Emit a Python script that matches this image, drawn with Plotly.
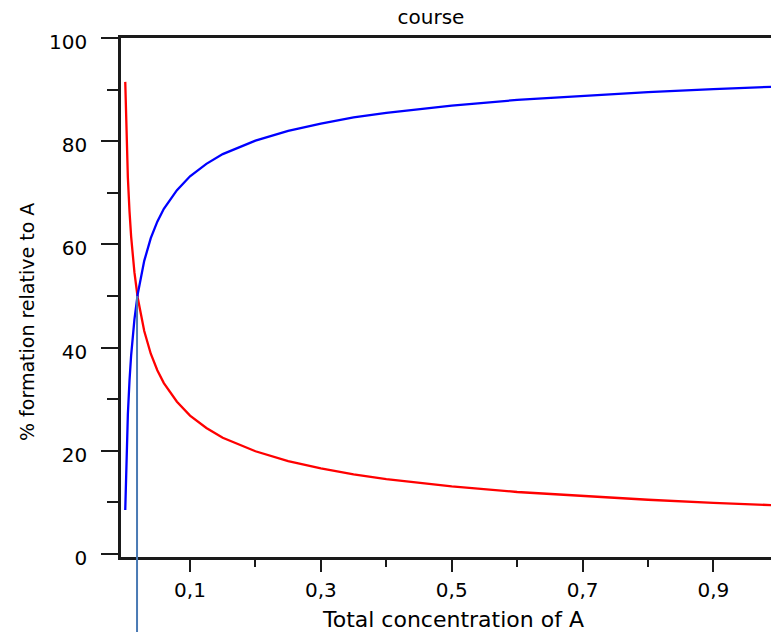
import plotly.graph_objects as go

# Data
conc = [0.001, 0.002, 0.003, 0.005, 0.0075, 0.01, 0.015, 0.02, 0.03, 0.04, 0.05, 0.06,
        0.08, 0.1, 0.125, 0.15, 0.2, 0.25, 0.3, 0.35, 0.4, 0.5, 0.6, 0.7, 0.8, 0.9, 1.0]
blue_pct = [8.5, 14.8, 19.7, 27.1, 33.6, 38.5, 45.4, 50.3, 56.8, 61.2, 64.4, 66.9,
            70.5, 73.2, 75.6, 77.5, 80.1, 82.0, 83.4, 84.6, 85.5, 86.9, 88.0, 88.8, 89.5, 90.1, 90.6]
red_pct = [91.5, 85.2, 80.3, 72.9, 66.4, 61.5, 54.6, 49.7, 43.2, 38.8, 35.6, 33.1,
           29.5, 26.8, 24.4, 22.5, 19.9, 18.0, 16.6, 15.4, 14.5, 13.1, 12.0, 11.2, 10.5, 9.9, 9.4]
vline_x = 0.019
vline_y = 50
x_range = [-0.0055, 0.988]
y_range = [-0.6, 100]
x_major = [0.1, 0.3, 0.5, 0.7, 0.9]
x_minor = [0.2, 0.4, 0.6, 0.8]

W, H = 771, 632
ML, MR, MT, MB = 121, 0, 38, 75

fig = go.Figure()
fig.add_trace(go.Scatter(x=conc, y=red_pct, mode="lines",
                         line=dict(color="#ff0000", width=2.3), showlegend=False))
fig.add_trace(go.Scatter(x=conc, y=blue_pct, mode="lines",
                         line=dict(color="#0000ff", width=2.3), showlegend=False))

plot_h = H - MT - MB
y_paper_top = (vline_y - y_range[0]) / (y_range[1] - y_range[0])
y_paper_bottom = -(MB) / plot_h
fig.add_shape(type="line", xref="x", yref="paper", x0=vline_x, x1=vline_x,
              y0=y_paper_bottom, y1=y_paper_top,
              line=dict(color="#4a7ab4", width=2))

font = "DejaVu Sans"
axis_col = "#1a1a1a"
fig.update_layout(
    width=W, height=H,
    margin=dict(l=ML, r=MR, t=MT, b=MB),
    paper_bgcolor="white", plot_bgcolor="white",
    separators=",.",
    font=dict(family=font, size=20, color="black"),
    title=dict(text="course", x=431 / W, xanchor="center", xref="container",
               y=1 - 17 / H, yanchor="middle", yref="container",
               font=dict(family=font, size=20, color="black")),
    xaxis=dict(range=x_range, showgrid=False, zeroline=False,
               showline=True, linecolor=axis_col, linewidth=2.5, mirror=True,
               tickmode="array", tickvals=x_major, tickformat=".1f",
               ticks="outside", ticklen=12, tickwidth=2, tickcolor=axis_col,
               ticklabelstandoff=1,
               tickfont=dict(family=font, size=20, color="black"),
               minor=dict(tickmode="array", tickvals=x_minor, ticks="outside",
                          ticklen=7, tickwidth=2, tickcolor=axis_col)),
    yaxis=dict(range=y_range, showgrid=False, zeroline=False,
               showline=True, linecolor=axis_col, linewidth=2.5,
               tick0=0, dtick=20, ticks="outside", ticklen=17, tickwidth=2,
               tickcolor=axis_col, ticklabelstandoff=10, ticklabelshift=4,
               tickfont=dict(family=font, size=20, color="black"),
               minor=dict(dtick=10, ticks="outside", ticklen=11, tickwidth=2,
                          tickcolor=axis_col)),
)

fig.add_annotation(text="Total concentration of A", xref="paper", yref="paper",
                   x=(453 - ML) / (W - ML - MR), y=-(619 - (H - MB)) / plot_h,
                   xanchor="center", yanchor="middle", showarrow=False,
                   font=dict(family=font, size=22, color="black"))
fig.add_annotation(text="% formation relative to A", xref="paper", yref="paper",
                   x=-(ML - 27) / (W - ML - MR), y=(H - MB - 322) / plot_h,
                   xanchor="center", yanchor="middle", textangle=-90, showarrow=False,
                   font=dict(family=font, size=19, color="black"))

fig.write_html("out.html")
